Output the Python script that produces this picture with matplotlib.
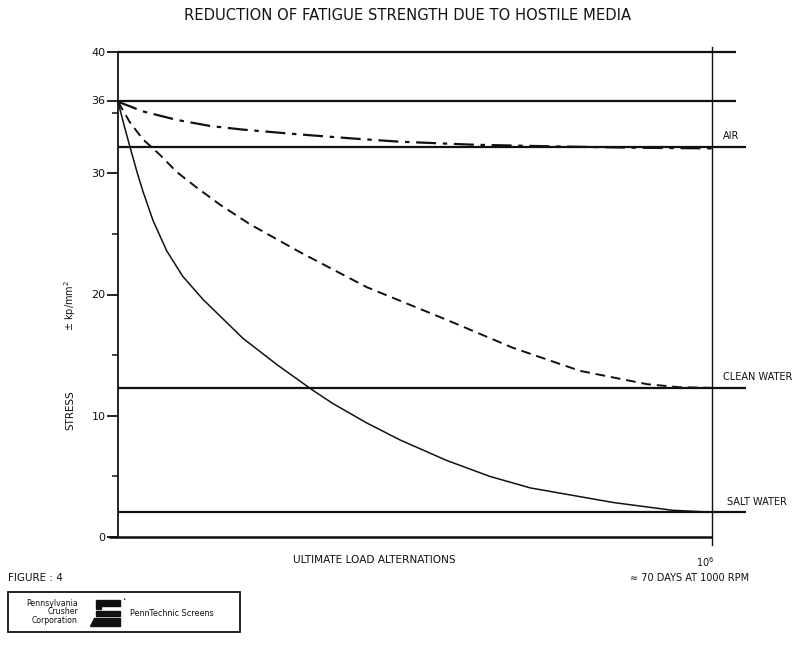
import numpy as np
import matplotlib
matplotlib.use('Agg')
import matplotlib.pyplot as plt
from matplotlib.patches import Rectangle, Polygon

# ─── Data ──────────────────────────────────────────────────────────────────
# x is the fraction of the way to 10^6 load alternations, y is stress in kp/mm^2
air_x = [0.0, 0.042, 0.099, 0.155, 0.21, 0.306, 0.40, 0.475, 0.6, 0.75, 0.88, 1.0]
air_y = [35.9, 35.1, 34.4, 33.9, 33.6, 33.2, 32.85, 32.6, 32.35, 32.2, 32.1, 32.05]

clean_x = [0.0, 0.02, 0.042, 0.071, 0.099, 0.133, 0.172, 0.222, 0.306, 0.419,
           0.554, 0.665, 0.778, 0.891, 0.946, 1.0]
clean_y = [35.9, 34.2, 32.8, 31.5, 30.1, 28.8, 27.4, 25.8, 23.5, 20.6,
           17.9, 15.6, 13.7, 12.6, 12.35, 12.3]

salt_x = [0.0, 0.01, 0.02, 0.032, 0.042, 0.059, 0.082, 0.109, 0.143, 0.21,
          0.268, 0.328, 0.362, 0.419, 0.475, 0.554, 0.626, 0.694, 0.833,
          0.934, 1.0]
salt_y = [35.9, 34.0, 32.2, 30.1, 28.5, 26.1, 23.6, 21.5, 19.6, 16.4,
          14.2, 12.1, 11.0, 9.4, 8.0, 6.3, 5.0, 4.05, 2.85, 2.2, 2.05]

# horizontal reference levels and how far right they run
levels = [40, 36, 32.2, 12.3, 2.05]
level_ends = [1.04, 1.04, 1.057, 1.057, 1.057]
level_names = ['', '', 'AIR', 'CLEAN WATER', 'SALT WATER']
label_x = [0, 0, 1.018, 1.018, 1.025]

major_ticks = [0, 10, 20, 30, 36, 40]
minor_ticks = [5, 15, 25, 35]

INK = '#111111'

# ─── Figure ────────────────────────────────────────────────────────────────
fig = plt.figure(figsize=(8, 6.47), dpi=100)
fig.patch.set_facecolor('white')
ax = fig.add_axes([118/800, 1 - 537/647, 594/800, 485/647])
ax.set_xlim(0, 1)
ax.set_ylim(0, 40)
ax.patch.set_alpha(0)

for s in ['top', 'right', 'bottom']:
    ax.spines[s].set_visible(False)
ax.spines['left'].set_linewidth(1.3)
ax.spines['left'].set_color(INK)

ax.set_xticks([])
ax.set_yticks(major_ticks)
ax.set_yticks(minor_ticks, minor=True)
ax.tick_params(axis='y', which='major', length=8, width=1.3, colors=INK,
               labelsize=8, pad=1)
ax.tick_params(axis='y', which='minor', length=4, width=1.1, colors=INK)

# horizontal levels
for lv, end, name, lx in zip(levels, level_ends, level_names, label_x):
    ax.plot([0, end], [lv, lv], color=INK, lw=1.6, clip_on=False,
            solid_capstyle='butt')
    if name:
        ax.text(lx, lv + 0.45, name, fontsize=7, color=INK,
                ha='left', va='bottom')

# x axis (zero line) and the 10^6 vertical
ax.plot([-0.015, 1.0], [0, 0], color=INK, lw=1.8, clip_on=False,
        solid_capstyle='butt')
ax.plot([1.0, 1.0], [-0.7, 40.4], color=INK, lw=1.0, clip_on=False)

# curves
ax.plot(air_x, air_y, color=INK, lw=1.6, dashes=(9, 3, 2, 3),
        clip_on=False, solid_joinstyle='round')
ax.plot(clean_x, clean_y, color=INK, lw=1.4, dashes=(5, 3),
        clip_on=False)
ax.plot(salt_x, salt_y, color=INK, lw=1.1, clip_on=False,
        solid_joinstyle='round')

# ─── Texts ─────────────────────────────────────────────────────────────────
fig.text(408/800, 1 - 15/647,
         'REDUCTION OF FATIGUE STRENGTH DUE TO HOSTILE MEDIA',
         ha='center', va='center', fontsize=10.6, color=INK)
fig.text(374/800, 1 - 560/647, 'ULTIMATE LOAD ALTERNATIONS',
         ha='center', va='center', fontsize=7.6, color=INK)
fig.text(705/800, 1 - 562/647, r'$10^6$', ha='center', va='center',
         fontsize=7, color=INK)
fig.text(690/800, 1 - 578/647, '≈ 70 DAYS AT 1000 RPM',
         ha='center', va='center', fontsize=7, color=INK)
fig.text(70/800, 1 - 410/647, 'STRESS', rotation=90,
         ha='center', va='center', fontsize=7.5, color=INK)
fig.text(70/800, 1 - 305/647, r'$\pm$ kp/mm$^2$', rotation=90,
         ha='center', va='center', fontsize=7, color=INK)
fig.text(8/800, 1 - 578/647, 'FIGURE : 4', ha='left', va='center',
         fontsize=7.5, color=INK)

# ─── Logo box ──────────────────────────────────────────────────────────────
box = Rectangle((8/800, 1 - 632/647), 232/800, 40/647,
                transform=fig.transFigure, fill=False, lw=1.3,
                edgecolor=INK)
fig.patches.append(box)
fig.text(78/800, 1 - 612/647, 'Pennsylvania\nCrusher\nCorporation',
         ha='right', va='center', fontsize=5.6, color=INK, linespacing=0.95)
# stylised mark
mark = [
    [(96, 600), (120, 600), (120, 606), (101, 606), (101, 609), (96, 609)],
    [(96, 611), (120, 611), (120, 616), (96, 616)],
    [(94, 618), (120, 618), (120, 626), (90, 626)],
]
for pts in mark:
    poly = Polygon([(px/800, 1 - py/647) for px, py in pts], closed=True,
                   transform=fig.transFigure, facecolor=INK, edgecolor=INK)
    fig.patches.append(poly)
fig.text(122/800, 1 - 599/647, '•', ha='left', va='center',
         fontsize=4, color=INK)
fig.text(130/800, 1 - 613/647, 'PennTechnic Screens', ha='left',
         va='center', fontsize=5.8, color=INK)

fig.savefig('out.png', dpi=100, facecolor='white')
